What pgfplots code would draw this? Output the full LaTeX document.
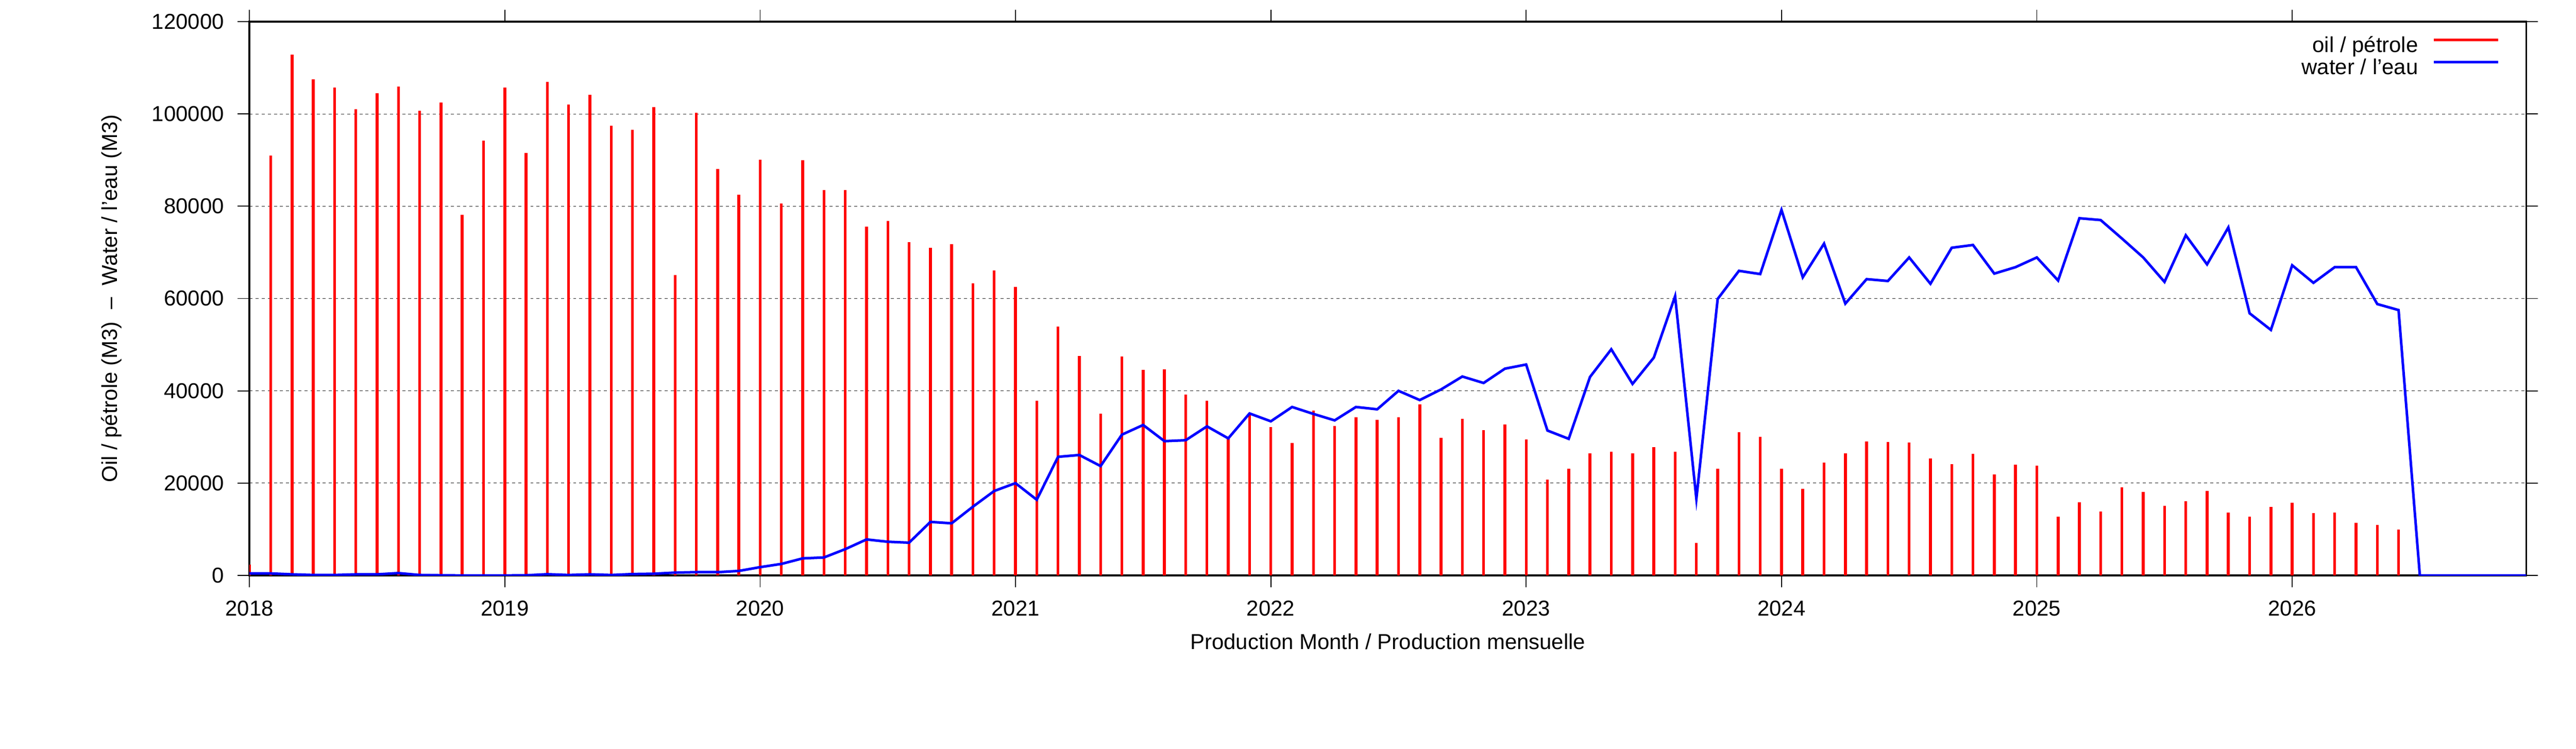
\documentclass[border=0pt]{standalone}
\usepackage{fontspec}
\setmainfont{Liberation Sans}
\usepackage{pgfplots}
\pgfplotsset{compat=1.18}
\usepackage{pgfplotstable}

% month index (0 = Jan 2018), oil and water volumes (M3)
\pgfplotstableread{
m oil water
0 2400 440
1 91000 440
2 112800 240
3 107500 100
4 105700 100
5 101000 240
6 104500 240
7 105900 510
8 100700 100
9 102500 30
10 78100 0
11 94200 0
12 105700 0
13 91500 30
14 106900 270
15 102000 100
16 104200 240
17 97500 100
18 96600 300
19 101500 370
20 65100 610
21 100200 710
22 88100 710
23 82500 980
24 90100 1800
25 80600 2500
26 90000 3700
27 83500 3900
28 83500 5700
29 75600 7800
30 76800 7300
31 72200 7100
32 71000 11600
33 71800 11300
34 63300 14900
35 66100 18300
36 62500 20000
37 37900 16400
38 53900 25700
39 47600 26100
40 35100 23700
41 47400 30500
42 44500 32600
43 44600 29100
44 39200 29300
45 37800 32300
46 29700 29700
47 35000 35100
48 32200 33400
49 28700 36500
50 35700 35000
51 32400 33600
52 34300 36500
53 33700 36000
54 34300 40000
55 37100 38000
56 29800 40300
57 33900 43100
58 31500 41700
59 32700 44800
60 29500 45700
61 20800 31400
62 23100 29600
63 26500 43000
64 26800 49000
65 26500 41500
66 27800 47200
67 26800 60500
68 7000 16600
69 23100 59900
70 31000 66000
71 30000 65300
72 23100 79200
73 18800 64600
74 24400 71900
75 26500 58900
76 29000 64200
77 28900 63800
78 28800 68900
79 25400 63200
80 24100 71000
81 26400 71600
82 21900 65400
83 24000 66800
84 23800 68900
85 12700 63900
86 15900 77400
87 13900 77000
88 19100 73000
89 18100 68900
90 15100 63600
91 16100 73700
92 18300 67400
93 13600 75400
94 12700 56800
95 14900 53200
96 15800 67200
97 13500 63400
98 13600 66800
99 11400 66800
100 10900 58800
101 10000 57500
102 nan 0
103 nan 0
104 nan 0
105 nan 0
106 nan 0
107 nan 0
}\prodtable

\begin{document}
\fontsize{9.2pt}{11pt}\selectfont
\begin{tikzpicture}
\begin{axis}[
  at={(0pt,0pt)}, anchor=south west,
  width=969.2pt, height=235.8pt, scale only axis,
  xmin=0, xmax=107, ymin=0, ymax=120000,
  xtick={0,12,24,36,48,60,72,84,96},
  xticklabels={2018,2019,2020,2021,2022,2023,2024,2025,2026},
  ytick={0,20000,40000,60000,80000,100000,120000},
  scaled y ticks=false,
  yticklabel style={/pgf/number format/fixed, /pgf/number format/1000 sep={}},
  /pgf/number format/assume math mode=true,
  tick align=outside, major tick length=5pt,
  major tick style={black, line width=0.4pt},
  axis line style={black, line width=0.8pt},
  ymajorgrids,
  grid style={black!85, line width=0.25pt, dash pattern=on 1.3pt off 1.3pt},
  xticklabel style={inner sep=0pt, anchor=north, yshift=-5.6pt},
  yticklabel style={inner sep=0pt, anchor=east, xshift=-5.6pt},
  every axis x label/.style={at={(axis description cs:0.5,0)}, anchor=base, yshift=-31.4pt},
  ylabel shift=9.7pt,
  xlabel={Production Month / Production mensuelle},
  ylabel={Oil / pétrole (M3)\ \ –\ \ Water / l’eau (M3)},
  legend plot pos=right,
  legend cell align=right,
  legend style={draw=none, fill=none, at={(axis description cs:1,1)}, anchor=north east,
    xshift=-11.2pt, yshift=-6.2pt, inner sep=0pt, row sep=0pt, column sep=6pt,
    nodes={inner sep=0pt, text height=6.6pt, text depth=2.8pt}},
]
\addplot[ycomb, color=red, line width=1.2pt,
  legend image code/.code={\draw[red, line width=1.2pt] (0pt,3.3pt) -- (27.4pt,3.3pt);}]
  table[x=m, y=oil] {\prodtable};
\addlegendentry{oil / pétrole}
\addplot[color=blue, line width=1.1pt, mark=none,
  legend image code/.code={\draw[blue, line width=1.1pt] (0pt,3.3pt) -- (27.4pt,3.3pt);}]
  table[x=m, y=water] {\prodtable};
\addlegendentry{water / l’eau}
\end{axis}
\path (-106.2pt,-73.8pt) rectangle (990.4pt,245pt);
\end{tikzpicture}
\end{document}
